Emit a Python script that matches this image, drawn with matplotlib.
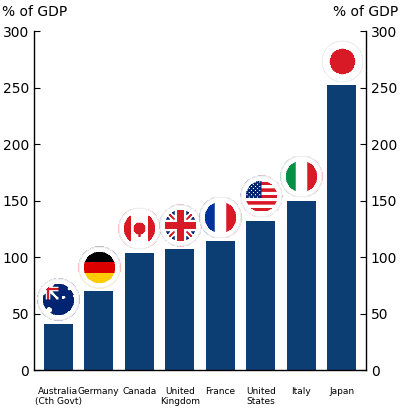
import numpy as np
import matplotlib
matplotlib.use("Agg")
import matplotlib.pyplot as plt
from matplotlib.offsetbox import OffsetImage, AnnotationBbox

countries = ["Australia\n(Cth Govt)", "Germany", "Canada", "United\nKingdom", "France", "United\nStates", "Italy", "Japan"]
values = [41, 70, 104, 107, 114, 132, 150, 252]
flags = ["AU", "DE", "CA", "UK", "FR", "US", "IT", "JP"]
yticks = [0, 50, 100, 150, 200, 250, 300]

BLUE = "#0d3e73"
N = 80

def flag_img(code):
    img = np.ones((N, N, 3))
    y, x = np.mgrid[0:N, 0:N] / (N - 1)
    red = np.array([0.85, 0.1, 0.15]); white = np.array([1, 1, 1.0]); nav = np.array([0.0, 0.14, 0.45])
    if code == "JP":
        img[(x - .5) ** 2 + (y - .5) ** 2 < .09] = red
    elif code == "IT":
        img[x < .36] = [0, .57, .27]; img[x > .64] = red
    elif code == "FR":
        img[x < .36] = [0, .2, .6]; img[x > .64] = red
    elif code == "DE":
        img[y < .37] = [0, 0, 0]; img[(y >= .37) & (y < .63)] = [.87, 0, 0]; img[y >= .63] = [1, .8, 0]
    elif code == "CA":
        img[x < .3] = red; img[x > .7] = red
        img[((x - .5) ** 2 + (y - .5) ** 2 < .02) | ((abs(x - .5) < .02) & (y > .5) & (y < .7))] = red
    elif code == "UK":
        img[:] = nav
        d1 = abs(x - y) < .09; d2 = abs(x + y - 1) < .09
        img[d1 | d2] = white
        img[(abs(x - y) < .035) | (abs(x + y - 1) < .035)] = red
        img[(abs(x - .5) < .14) | (abs(y - .5) < .14)] = white
        img[(abs(x - .5) < .08) | (abs(y - .5) < .08)] = red
    elif code == "US":
        stripe = (np.floor(y * 13) % 2 == 0)
        img[stripe] = red
        img[(x < .5) & (y < .54)] = nav
        st = (x < .5) & (y < .54) & ((np.floor(x * 20) + np.floor(y * 20)) % 2 == 0) & ((x * 20 % 1) < .5) & ((y * 20 % 1) < .5)
        img[st] = white
    elif code == "AU":
        img[:] = nav
        q = (x < .5) & (y < .5)
        img[q & ((abs(x - y) < .05) | (abs(x + y - .5) < .05))] = white
        img[q & ((abs(x - .25) < .06) | (abs(y - .25) < .06))] = white
        img[q & ((abs(x - .25) < .03) | (abs(y - .25) < .03))] = red
        for cx, cy, r in [(.28, .75, .07), (.75, .25, .04), (.62, .45, .04), (.88, .42, .04), (.75, .82, .045)]:
            img[(x - cx) ** 2 + (y - cy) ** 2 < r * r] = white
    r = np.sqrt((x - .5) ** 2 + (y - .5) ** 2)
    out = np.zeros((N, N, 4))
    out[..., :3] = img
    ring = (r >= .37) & (r < .5)
    out[ring, :3] = 1
    out[..., 3] = (r < .5).astype(float)
    sh = ring & (r > .47)
    out[sh, :3] = .93
    return out

fig = plt.figure(figsize=(4, 4.09), dpi=100)
ax = fig.add_axes([0.085, 0.095, 0.83, 0.829])
xs = np.arange(len(countries))
ax.bar(xs, values, width=0.72, color=BLUE, zorder=2)
ax.set_ylim(0, 300)
ax.set_xlim(-0.6, len(countries) - 0.4)
ax.set_yticks(yticks)
ax.tick_params(axis="y", labelsize=10, length=4, direction="in", right=True, labelright=True, colors="black")
ax.set_xticks(xs)
ax.set_xticklabels(countries, fontsize=6.5, linespacing=1.1)
ax.tick_params(axis="x", length=0, pad=12)
ax.spines["top"].set_visible(False)
for s in ["left", "right", "bottom"]:
    ax.spines[s].set_linewidth(1)
for i, (v, c) in enumerate(zip(values, flags)):
    ab = AnnotationBbox(OffsetImage(flag_img(c), zoom=0.38), (i, v), xybox=(0, 17),
                        boxcoords="offset points", frameon=False, zorder=3)
    ax.add_artist(ab)
fig.text(0.005, 0.97, "% of GDP", fontsize=10, ha="left", va="center")
fig.text(0.995, 0.97, "% of GDP", fontsize=10, ha="right", va="center")
fig.savefig("out.png", dpi=100)
